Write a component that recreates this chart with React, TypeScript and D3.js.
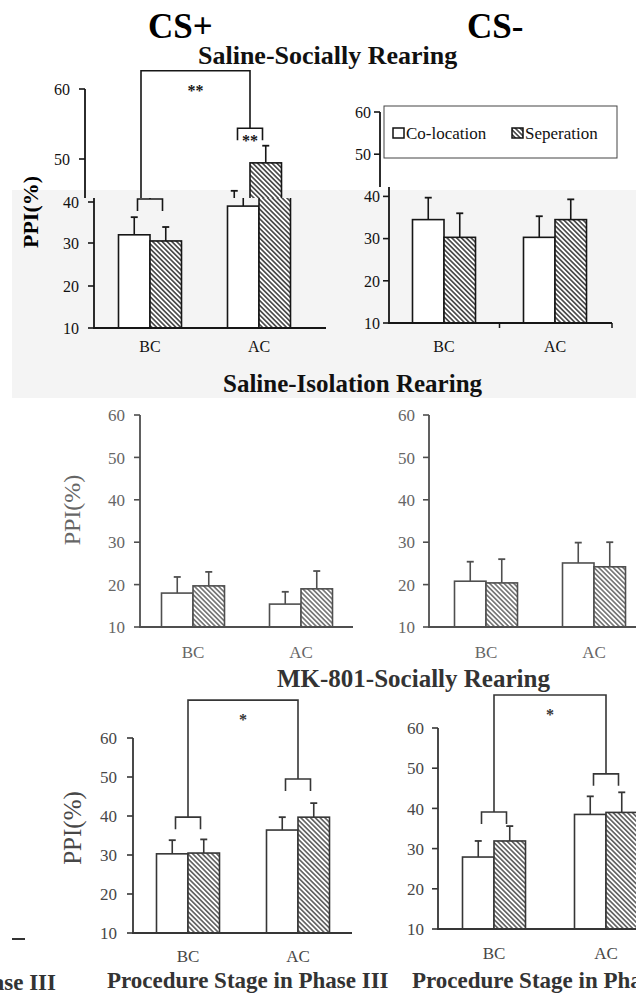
import React, { useEffect, useRef } from 'react';
import * as d3 from 'd3';

const stages = ['BC', 'AC'];
const conditions = ['Co-location', 'Seperation'];
const yTicks = [10, 20, 30, 40, 50, 60];

// Saline-Socially Rearing
const salSocPlusColo = [32, 39];
const salSocPlusColoErr = [4.3, 3.6];
const salSocPlusSep = [30.5, 49.1];
const salSocPlusSepErr = [3.4, 2.8];
const salSocMinusColo = [34.5, 30.3];
const salSocMinusColoErr = [5.2, 5.0];
const salSocMinusSep = [30.3, 34.5];
const salSocMinusSepErr = [5.7, 4.8];

// Saline-Isolation Rearing
const salIsoPlusColo = [18, 15.4];
const salIsoPlusColoErr = [3.8, 2.9];
const salIsoPlusSep = [19.7, 19];
const salIsoPlusSepErr = [3.3, 4.2];
const salIsoMinusColo = [20.8, 25.1];
const salIsoMinusColoErr = [4.6, 4.8];
const salIsoMinusSep = [20.4, 24.2];
const salIsoMinusSepErr = [5.6, 5.8];

// MK-801-Socially Rearing
const mkPlusColo = [30.3, 36.4];
const mkPlusColoErr = [3.5, 3.3];
const mkPlusSep = [30.5, 39.7];
const mkPlusSepErr = [3.5, 3.6];
const mkMinusColo = [27.9, 38.5];
const mkMinusColoErr = [4.0, 4.5];
const mkMinusSep = [31.9, 39];
const mkMinusSepErr = [3.7, 5.0];

// significance brackets (value units): pair bracket heights, big bracket top
const salSocPlusSig = { pair: [40.7, 54.4], top: 62.6, mark: '**', inner: ['', '**'] };
const mkPlusSig = { pair: [39.7, 49.5], top: 69.7, mark: '*', inner: ['', ''] };
const mkMinusSig = { pair: [39.1, 48.6], top: 68.2, mark: '*', inner: ['', ''] };

const SERIF = '"Liberation Serif", "Times New Roman", serif';

const themes = {
  top: { stroke: '#161616', text: '#111', hatch: 'hatch-top' },
  mid: { stroke: '#4f4f4f', text: '#666', hatch: 'hatch-mid' },
  bot: { stroke: '#363636', text: '#474747', hatch: 'hatch-bot' },
};

const panels = [
  {
    id: 'p1', theme: themes.top, colo: salSocPlusColo, coloErr: salSocPlusColoErr, sep: salSocPlusSep, sepErr: salSocPlusSepErr,
    yPx: [328, 286, 243, 202, 159, 89], axisX: 94, xRange: [95.5, 313.5], xEnd: 326, labelY: 352, tickGap: 15, tickFont: 16, catFont: 16,
    split: { y: 198, shift: 9 }, yLabel: { x: 30, y: 212, size: 22, weight: 'bold' }, sig: salSocPlusSig, xTicks: false,
  },
  {
    id: 'p2', theme: themes.top, colo: salSocMinusColo, coloErr: salSocMinusColoErr, sep: salSocMinusSep, sepErr: salSocMinusSepErr,
    yPx: [323, 112], axisX: 389, xRange: [388.5, 610.5], xEnd: 612, labelY: 352, tickGap: 9, tickFont: 16, catFont: 16,
    split: { y: 187, shift: 9 }, yLabel: null, sig: null, xTicks: true,
  },
  {
    id: 'p3', theme: themes.mid, colo: salIsoPlusColo, coloErr: salIsoPlusColoErr, sep: salIsoPlusSep, sepErr: salIsoPlusSepErr,
    yPx: [627, 415], axisX: 140, xRange: [139, 355], xEnd: 353, labelY: 658, tickGap: 15, tickFont: 17, catFont: 17,
    split: null, yLabel: { x: 72, y: 510, size: 24, weight: 'normal' }, sig: null, xTicks: false,
  },
  {
    id: 'p4', theme: themes.mid, colo: salIsoMinusColo, coloErr: salIsoMinusColoErr, sep: salIsoMinusSep, sepErr: salIsoMinusSepErr,
    yPx: [627, 415], axisX: 429, xRange: [432, 648], xEnd: 640, labelY: 658, tickGap: 14, tickFont: 17, catFont: 17,
    split: null, yLabel: null, sig: null, xTicks: false,
  },
  {
    id: 'p5', theme: themes.bot, colo: mkPlusColo, coloErr: mkPlusColoErr, sep: mkPlusSep, sepErr: mkPlusSepErr,
    yPx: [933, 738], axisX: 133, xRange: [133, 353], xEnd: 352, labelY: 962, tickGap: 16, tickFont: 17, catFont: 17,
    split: null, yLabel: { x: 72, y: 828, size: 25, weight: 'normal' }, sig: mkPlusSig, xTicks: false,
  },
  {
    id: 'p6', theme: themes.bot, colo: mkMinusColo, coloErr: mkMinusColoErr, sep: mkMinusSep, sepErr: mkMinusSepErr,
    yPx: [929, 728], axisX: 438, xRange: [438, 662], xEnd: 640, labelY: 959, tickGap: 14, tickFont: 17, catFont: 17,
    split: null, yLabel: null, sig: mkMinusSig, xTicks: false,
  },
];

// part: 'all' | 'low' | 'high' -- spliced panels are drawn twice, texts only once
const drawPanel = (g: any, tg: any, p: any, part: string) => {
  const t = p.theme;
  const keep = (yy: number) => part === 'all' || (part === 'high') === (yy < p.split.y);
  const x = d3.scaleBand().domain(stages).range(p.xRange);
  const xi = d3.scaleBand().domain(conditions).range([-31.5, 31.5]);
  const y = d3.scaleLinear().domain(p.yPx.length === 2 ? [10, 60] : yTicks).range(p.yPx);
  const cx = (s: string) => (x(s) as number) + x.bandwidth() / 2;

  const rows = stages.flatMap((s, i) => [
    { s, c: conditions[0], v: p.colo[i], e: p.coloErr[i] },
    { s, c: conditions[1], v: p.sep[i], e: p.sepErr[i] },
  ]);

  // error bars (upper half only)
  rows.forEach(r => {
    const mx = cx(r.s) + (xi(r.c) as number) + xi.bandwidth() / 2;
    g.append('line').attr('x1', mx).attr('x2', mx).attr('y1', y(r.v)).attr('y2', y(r.v + r.e))
      .attr('stroke', t.stroke).attr('stroke-width', 1.6);
    g.append('line').attr('x1', mx - 3.5).attr('x2', mx + 3.5).attr('y1', y(r.v + r.e)).attr('y2', y(r.v + r.e))
      .attr('stroke', t.stroke).attr('stroke-width', 1.8);
  });

  g.selectAll('.bar').data(rows).enter().append('rect')
    .attr('x', (r: any) => cx(r.s) + (xi(r.c) as number))
    .attr('y', (r: any) => y(r.v))
    .attr('width', xi.bandwidth())
    .attr('height', (r: any) => y(10) - y(r.v))
    .attr('fill', (r: any) => (r.c === conditions[0] ? '#fff' : `url(#${t.hatch})`))
    .attr('stroke', t.stroke)
    .attr('stroke-width', 1.6);

  // y axis
  g.append('line').attr('x1', p.axisX).attr('x2', p.axisX).attr('y1', y(60)).attr('y2', y(10))
    .attr('stroke', t.stroke).attr('stroke-width', 1.8);
  yTicks.forEach(v => {
    g.append('line').attr('x1', p.axisX - 6).attr('x2', p.axisX).attr('y1', y(v)).attr('y2', y(v))
      .attr('stroke', t.stroke).attr('stroke-width', 1.6);
    if (keep(y(v))) {
      tg.append('text').attr('x', p.axisX - p.tickGap).attr('y', y(v)).attr('dy', '0.36em')
        .attr('text-anchor', 'end').attr('font-size', p.tickFont).attr('fill', t.text).text(v);
    }
  });

  // x axis
  g.append('line').attr('x1', p.axisX - 1).attr('x2', p.xEnd).attr('y1', y(10)).attr('y2', y(10))
    .attr('stroke', t.stroke).attr('stroke-width', 1.8);
  if (p.xTicks) {
    [p.xRange[0] + x.step(), p.xEnd].forEach(xx => {
      g.append('line').attr('x1', xx).attr('x2', xx).attr('y1', y(10)).attr('y2', y(10) + 5)
        .attr('stroke', t.stroke).attr('stroke-width', 1.5);
    });
  }
  if (keep(p.labelY)) {
    stages.forEach(s => {
      tg.append('text').attr('x', cx(s)).attr('y', p.labelY).attr('text-anchor', 'middle')
        .attr('font-size', p.catFont).attr('fill', t.text).text(s);
    });
  }

  if (p.yLabel && keep(p.yLabel.y)) {
    tg.append('text')
      .attr('transform', `translate(${p.yLabel.x},${p.yLabel.y}) rotate(-90)`)
      .attr('text-anchor', 'middle').attr('dy', '0.35em')
      .attr('font-size', p.yLabel.size).attr('font-weight', p.yLabel.weight)
      .attr('fill', t.text === '#111' ? '#000' : t.text).text('PPI(%)');
  }

  if (p.sig) {
    const sg = p.sig;
    stages.forEach((s, i) => {
      const c = cx(s);
      const yy = y(sg.pair[i]);
      g.append('path').attr('d', `M${c - 12.5},${yy + 12}V${yy}H${c + 12.5}V${yy + 12}`)
        .attr('fill', 'none').attr('stroke', t.stroke).attr('stroke-width', 1.6);
      if (sg.inner[i] && keep(yy + 18)) {
        tg.append('text').attr('x', c).attr('y', yy + 18).attr('text-anchor', 'middle')
          .attr('font-size', 16).attr('font-weight', 'bold').attr('fill', t.stroke).text(sg.inner[i]);
      }
    });
    const c0 = cx(stages[0]);
    const c1 = cx(stages[1]);
    g.append('path').attr('d', `M${c0},${y(sg.pair[0])}V${y(sg.top)}H${c1}V${y(sg.pair[1])}`)
      .attr('fill', 'none').attr('stroke', t.stroke).attr('stroke-width', 1.6);
    if (keep(y(sg.top) + 25)) {
      tg.append('text').attr('x', (c0 + c1) / 2).attr('y', y(sg.top) + 25).attr('text-anchor', 'middle')
        .attr('font-size', 16).attr('font-weight', 'bold').attr('fill', t.stroke).text(sg.mark);
    }
  }
};

const App = () => {
  const ref = useRef<SVGSVGElement>(null);

  useEffect(() => {
    const svg = d3.select(ref.current);
    svg.selectAll('*').remove();
    svg.attr('font-family', SERIF);

    const defs = svg.append('defs');
    Object.values(themes).forEach(t => {
      const pat = defs.append('pattern').attr('id', t.hatch).attr('patternUnits', 'userSpaceOnUse')
        .attr('width', 3.4).attr('height', 3.4).attr('patternTransform', 'rotate(-45)');
      pat.append('rect').attr('width', 3.4).attr('height', 3.4).attr('fill', '#fff');
      pat.append('line').attr('x1', 1.7).attr('x2', 1.7).attr('y1', 0).attr('y2', 3.4)
        .attr('stroke', t.stroke).attr('stroke-width', 1.3);
    });

    svg.append('rect').attr('width', 636).attr('height', 994).attr('fill', '#fff');
    // light gray band behind the top row's lower half and the middle title
    svg.append('rect').attr('x', 12).attr('y', 190).attr('width', 624).attr('height', 208).attr('fill', '#f4f4f4');

    panels.forEach(p => {
      if (!p.split) {
        const g = svg.append('g');
        drawPanel(g, g, p, 'all');
        return;
      }
      defs.append('clipPath').attr('id', `${p.id}-low`).append('rect')
        .attr('x', 0).attr('y', p.split.y).attr('width', 636).attr('height', 994 - p.split.y);
      defs.append('clipPath').attr('id', `${p.id}-high`).append('rect')
        .attr('x', 0).attr('y', 0).attr('width', 636).attr('height', p.split.y);
      const low = svg.append('g').attr('clip-path', `url(#${p.id}-low)`);
      const lowText = svg.append('g');
      drawPanel(low, lowText, p, 'low');
      const hi = svg.append('g').attr('clip-path', `url(#${p.id}-high)`)
        .append('g').attr('transform', `translate(${-p.split.shift},0)`);
      const hiText = svg.append('g').attr('transform', `translate(${-p.split.shift},0)`);
      drawPanel(hi, hiText, p, 'high');
    });

    // legend
    const lg = svg.append('g');
    lg.append('rect').attr('x', 384).attr('y', 106).attr('width', 233).attr('height', 52)
      .attr('fill', '#fff').attr('stroke', '#444').attr('stroke-width', 1);
    const lx = d3.scalePoint().domain(conditions).range([393, 512]);
    conditions.forEach((c, i) => {
      lg.append('rect').attr('x', lx(c) as number).attr('y', 128).attr('width', 11).attr('height', 10)
        .attr('fill', i === 0 ? '#fff' : 'url(#hatch-top)').attr('stroke', '#111').attr('stroke-width', 1.5);
      lg.append('text').attr('x', (lx(c) as number) + 13).attr('y', 139).attr('font-size', 17)
        .attr('fill', '#111').text(c);
    });

    // titles
    const title = (txt: string, x: number, y: number, size: number, fill: string, anchor = 'start') =>
      svg.append('text').attr('x', x).attr('y', y).attr('font-size', size).attr('font-weight', 'bold')
        .attr('fill', fill).attr('text-anchor', anchor).text(txt);
    title('CS+', 148, 38, 35, '#000');
    title('CS-', 467, 38, 35, '#000');
    title('Saline-Socially Rearing', 198, 64, 26, '#111');
    title('Saline-Isolation Rearing', 223, 392, 25, '#111');
    title('MK-801-Socially Rearing', 277, 687, 25, '#333');
    title('Procedure Stage in Phase III', 107, 988, 23, '#333');
    title('Procedure Stage in Phase III', 412, 988, 23, '#333');
    title('Procedure Stage in Phase III', 56, 990, 23, '#333', 'end');
    svg.append('line').attr('x1', 12).attr('x2', 25).attr('y1', 939).attr('y2', 939)
      .attr('stroke', '#333').attr('stroke-width', 2);
  }, []);

  return (
    <svg ref={ref} width={636} height={994}
      style={{ position: 'absolute', left: 0, top: 0, display: 'block' }} />
  );
};

export default App;
